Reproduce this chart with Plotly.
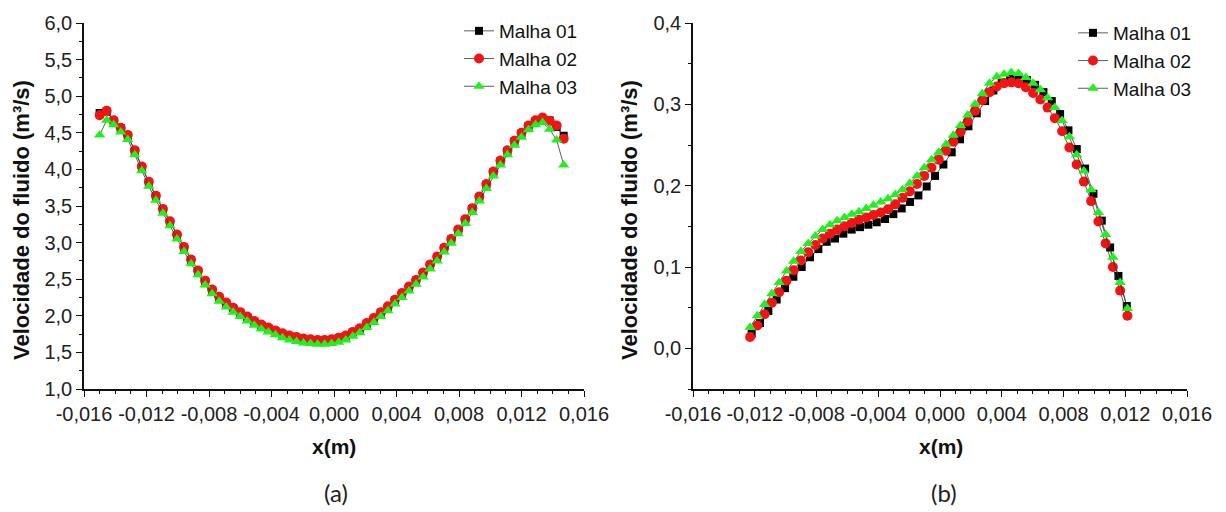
import plotly.graph_objects as go

# ---------------- data: panel (a) ----------------
xa = [-0.01500, -0.01455, -0.01410, -0.01365, -0.01320, -0.01275, -0.01230, -0.01185, -0.01140, -0.01095,
      -0.01050, -0.01005, -0.00960, -0.00915, -0.00870, -0.00825, -0.00780, -0.00735, -0.00690, -0.00645,
      -0.00600, -0.00555, -0.00510, -0.00465, -0.00420, -0.00375, -0.00330, -0.00285, -0.00240, -0.00195,
      -0.00150, -0.00105, -0.00060, -0.00015, 0.00030, 0.00075, 0.00120, 0.00165, 0.00210, 0.00255,
      0.00300, 0.00345, 0.00390, 0.00435, 0.00480, 0.00525, 0.00570, 0.00615, 0.00660, 0.00705,
      0.00750, 0.00795, 0.00840, 0.00885, 0.00930, 0.00975, 0.01020, 0.01065, 0.01110, 0.01155,
      0.01200, 0.01245, 0.01290, 0.01335, 0.01380, 0.01425, 0.01470]

a_malha01 = [4.77, 4.79, 4.66, 4.56, 4.46, 4.25, 4.03, 3.82, 3.63, 3.45, 3.28, 3.10, 2.93, 2.76, 2.61, 2.47,
             2.35, 2.25, 2.17, 2.10, 2.04, 1.98, 1.92, 1.87, 1.83, 1.79, 1.75, 1.72, 1.70, 1.68, 1.67, 1.66,
             1.66, 1.67, 1.69, 1.72, 1.77, 1.82, 1.89, 1.96, 2.04, 2.12, 2.21, 2.30, 2.39, 2.48, 2.58, 2.69,
             2.80, 2.92, 3.04, 3.17, 3.31, 3.46, 3.62, 3.79, 3.96, 4.11, 4.25, 4.38, 4.49, 4.59, 4.66, 4.69,
             4.67, 4.58, 4.46]
a_malha02 = [4.74, 4.80, 4.67, 4.57, 4.47, 4.26, 4.04, 3.83, 3.64, 3.46, 3.29, 3.11, 2.94, 2.77, 2.62, 2.48,
             2.36, 2.26, 2.18, 2.11, 2.05, 1.99, 1.93, 1.88, 1.84, 1.80, 1.76, 1.73, 1.71, 1.69, 1.68, 1.67,
             1.67, 1.68, 1.70, 1.73, 1.78, 1.83, 1.90, 1.97, 2.05, 2.13, 2.22, 2.31, 2.40, 2.49, 2.59, 2.70,
             2.81, 2.93, 3.05, 3.18, 3.32, 3.47, 3.63, 3.80, 3.97, 4.12, 4.26, 4.39, 4.50, 4.60, 4.67, 4.71,
             4.66, 4.60, 4.42]
a_malha03 = [4.47, 4.67, 4.61, 4.51, 4.41, 4.20, 3.98, 3.77, 3.58, 3.40, 3.23, 3.05, 2.88, 2.71, 2.56, 2.42,
             2.30, 2.20, 2.12, 2.05, 1.99, 1.93, 1.87, 1.82, 1.78, 1.74, 1.70, 1.67, 1.65, 1.63, 1.62, 1.61,
             1.61, 1.62, 1.64, 1.67, 1.72, 1.77, 1.84, 1.91, 1.99, 2.07, 2.16, 2.25, 2.34, 2.43, 2.53, 2.64,
             2.75, 2.87, 2.99, 3.12, 3.26, 3.41, 3.57, 3.74, 3.91, 4.06, 4.20, 4.33, 4.44, 4.54, 4.61, 4.64,
             4.55, 4.40, 4.06]

# ---------------- data: panel (b) ----------------
xb_01 = [-0.01220, -0.01166, -0.01112, -0.01058, -0.01004, -0.00950, -0.00896, -0.00842, -0.00788, -0.00734,
         -0.00680, -0.00626, -0.00572, -0.00518, -0.00464, -0.00410, -0.00356, -0.00302, -0.00248, -0.00194,
         -0.00140, -0.00086, -0.00032, 0.00022, 0.00076, 0.00130, 0.00184, 0.00238, 0.00292, 0.00346,
         0.00400, 0.00454, 0.00508, 0.00562, 0.00616, 0.00670, 0.00724, 0.00778, 0.00832, 0.00886,
         0.00940, 0.00994, 0.01048, 0.01102, 0.01156, 0.01210]
b_malha01 = [0.018, 0.031, 0.046, 0.060, 0.074, 0.088, 0.100, 0.112, 0.122, 0.131,
             0.135, 0.141, 0.146, 0.149, 0.152, 0.155, 0.159, 0.165, 0.172, 0.180,
             0.188, 0.199, 0.212, 0.226, 0.241, 0.257, 0.273, 0.289, 0.304, 0.317,
             0.327, 0.332, 0.333, 0.330, 0.324, 0.315, 0.304, 0.288, 0.268, 0.245,
             0.221, 0.190, 0.157, 0.124, 0.089, 0.052]

xb_0203 = [-0.01230, -0.01183, -0.01136, -0.01089, -0.01042, -0.00995, -0.00948, -0.00901, -0.00854, -0.00807,
           -0.00760, -0.00713, -0.00666, -0.00619, -0.00572, -0.00525, -0.00478, -0.00431, -0.00384, -0.00337,
           -0.00290, -0.00243, -0.00196, -0.00149, -0.00102, -0.00055, -0.00008, 0.00039, 0.00086, 0.00133,
           0.00180, 0.00227, 0.00274, 0.00321, 0.00368, 0.00415, 0.00462, 0.00509, 0.00556, 0.00603,
           0.00650, 0.00697, 0.00744, 0.00791, 0.00838, 0.00885, 0.00932, 0.00979, 0.01026, 0.01073,
           0.01120, 0.01167, 0.01214]
b_malha02 = [0.014, 0.028, 0.042, 0.056, 0.069, 0.083, 0.096, 0.108, 0.118, 0.127,
             0.135, 0.141, 0.146, 0.150, 0.154, 0.158, 0.161, 0.164, 0.167, 0.171,
             0.177, 0.185, 0.193, 0.202, 0.212, 0.222, 0.232, 0.243, 0.254, 0.266,
             0.279, 0.292, 0.305, 0.315, 0.322, 0.326, 0.327, 0.326, 0.321, 0.314,
             0.306, 0.296, 0.283, 0.267, 0.247, 0.226, 0.205, 0.181, 0.156, 0.129,
             0.100, 0.071, 0.040]
b_malha03 = [0.026, 0.040, 0.054, 0.067, 0.081, 0.095, 0.107, 0.119, 0.129, 0.138,
             0.146, 0.152, 0.157, 0.161, 0.165, 0.168, 0.172, 0.176, 0.180, 0.184,
             0.189, 0.195, 0.203, 0.212, 0.222, 0.232, 0.241, 0.251, 0.262, 0.274,
             0.287, 0.300, 0.313, 0.326, 0.334, 0.337, 0.339, 0.338, 0.333, 0.326,
             0.318, 0.308, 0.296, 0.280, 0.260, 0.238, 0.218, 0.195, 0.167, 0.140,
             0.112, 0.081, 0.049]

# ---------------- tick labels ----------------
x_tickvals = [-0.016, -0.012, -0.008, -0.004, 0.0, 0.004, 0.008, 0.012, 0.016]
x_ticktext = ["-0,016", "-0,012", "-0,008", "-0,004", "0,000", "0,004", "0,008", "0,012", "0,016"]
ya_tickvals = [1.0, 1.5, 2.0, 2.5, 3.0, 3.5, 4.0, 4.5, 5.0, 5.5, 6.0]
ya_ticktext = ["1,0", "1,5", "2,0", "2,5", "3,0", "3,5", "4,0", "4,5", "5,0", "5,5", "6,0"]
yb_tickvals = [0.0, 0.1, 0.2, 0.3, 0.4]
yb_ticktext = ["0,0", "0,1", "0,2", "0,3", "0,4"]

names = ["Malha 01", "Malha 02", "Malha 03"]
colors = ["#000000", "#f01414", "#1ff01f"]
symbols = ["square", "circle", "triangle-up"]
sizes = [8, 10, 10]

W, H = 1226, 512
FONT = "Liberation Sans"

fig = go.Figure()

def add(x, y, i, xa_, ya_, leg):
    fig.add_trace(go.Scatter(
        x=x, y=y, name=names[i], mode="lines+markers",
        xaxis=xa_, yaxis=ya_, legend=leg,
        line=dict(color="#333333", width=0.8),
        marker=dict(symbol=symbols[i], color=colors[i], size=sizes[i], line=dict(width=0)),
    ))

for i, y in enumerate([a_malha01, a_malha02, a_malha03]):
    add(xa, y, i, "x", "y", "legend")
add(xb_01, b_malha01, 0, "x2", "y2", "legend2")
add(xb_0203, b_malha02, 1, "x2", "y2", "legend2")
add(xb_0203, b_malha03, 2, "x2", "y2", "legend2")

def px_x(p):
    return p / W

def px_y(p):
    return 1 - p / H

axis_common = dict(
    showline=True, linecolor="#111111", linewidth=1.5, showgrid=False, zeroline=False,
    ticks="outside", ticklen=6, tickwidth=1.3, tickcolor="#111111", automargin=False,
    tickfont=dict(family=FONT, size=20, color="#222222"),
)
minor_common = dict(ticks="outside", ticklen=3, tickwidth=1, tickcolor="#111111")

fig.update_layout(
    width=W, height=H, margin=dict(l=0, r=0, t=0, b=0, autoexpand=False),
    paper_bgcolor="white", plot_bgcolor="white",
    showlegend=True,
    xaxis=dict(domain=[px_x(84), px_x(584)], range=[-0.016, 0.016], anchor="y",
               tickmode="array", tickvals=x_tickvals, ticktext=x_ticktext,
               minor=dict(dtick=0.001, tick0=0, **minor_common), **axis_common),
    yaxis=dict(domain=[px_y(389), px_y(23)], range=[1.0, 6.0], anchor="x",
               tickmode="array", tickvals=ya_tickvals, ticktext=ya_ticktext,
               minor=dict(dtick=0.25, tick0=0, **minor_common), **axis_common),
    xaxis2=dict(domain=[px_x(693), px_x(1187)], range=[-0.016, 0.016], anchor="y2",
                tickmode="array", tickvals=x_tickvals, ticktext=x_ticktext,
                minor=dict(dtick=0.001, tick0=0, **minor_common), **axis_common),
    yaxis2=dict(domain=[px_y(389), px_y(23)], range=[-0.05, 0.4], anchor="x2",
                tickmode="array", tickvals=yb_tickvals, ticktext=yb_ticktext,
                minor=dict(dtick=0.05, tick0=0, **minor_common), **axis_common),
    legend=dict(x=px_x(459), y=px_y(12), xanchor="left", yanchor="top",
                bgcolor="rgba(0,0,0,0)", font=dict(family=FONT, size=19, color="#111111")),
    legend2=dict(x=px_x(1073), y=px_y(14), xanchor="left", yanchor="top",
                 bgcolor="rgba(0,0,0,0)", font=dict(family=FONT, size=19, color="#111111")),
)

ytitle = "Velocidade do fluido (m³/s)"
title_font = dict(family=FONT, size=22, color="#111111")
ann = [
    dict(text="<b>" + ytitle + "</b>", x=px_x(21), y=px_y(220), textangle=-90, font=title_font),
    dict(text="<b>" + ytitle + "</b>", x=px_x(629), y=px_y(220), textangle=-90, font=title_font),
    dict(text="<b>x(m)</b>", x=px_x(334), y=px_y(446), font=dict(family=FONT, size=21, color="#111111")),
    dict(text="<b>x(m)</b>", x=px_x(941), y=px_y(446), font=dict(family=FONT, size=21, color="#111111")),
    dict(text="(a)", x=px_x(336), y=px_y(492), font=dict(family="Lato", size=24, color="#222222")),
    dict(text="(b)", x=px_x(944), y=px_y(492), font=dict(family="Lato", size=24, color="#222222")),
]
for a in ann:
    a.update(xref="paper", yref="paper", showarrow=False, xanchor="center", yanchor="middle")
fig.update_layout(annotations=ann)

fig.write_html("out.html")
